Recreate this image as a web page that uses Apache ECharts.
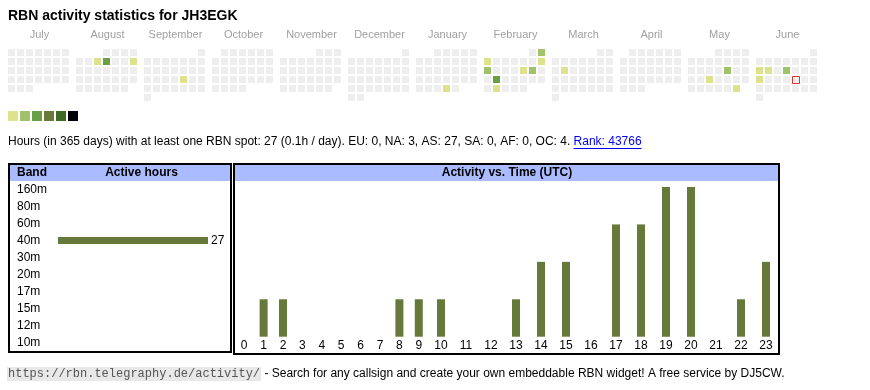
<!DOCTYPE html>
<html><head><meta charset="utf-8">
<script src="https://cdn.jsdelivr.net/npm/echarts@6/dist/echarts.min.js"></script>
<style>html,body{margin:0;padding:0;background:#fff}#c{width:870px;height:390px}</style>
</head><body><div id="c"></div>
<script>
const TITLE = 'RBN activity statistics for JH3EGK';
const monthNames = ['July','August','September','October','November','December','January','February','March','April','May','June'];
const monthRanges = ['2024-07','2024-08','2024-09','2024-10','2024-11','2024-12','2025-01','2025-02','2025-03','2025-04','2025-05','2025-06'];
const activeDays = ['2024-08-07','2024-08-08','2024-08-11','2024-09-20','2025-01-30','2025-02-02','2025-02-03','2025-02-09','2025-02-10','2025-02-14','2025-02-15','2025-02-18','2025-02-25','2025-03-11','2025-05-16','2025-05-21','2025-05-31','2025-06-09','2025-06-10','2025-06-12','2025-06-16'];
const activeLevels = [1,3,1,1,1,2,1,1,2,1,2,3,1,1,2,1,1,1,1,2,1];
const todayDate = '2025-06-20';
const levelColors = ['#dde38c','#a0c26a','#6aa045','#677a3b','#3e6a28','#000000'];
const bands = ['160m','80m','60m','40m','30m','20m','17m','15m','12m','10m'];
const bandHours = [0,0,0,27,0,0,0,0,0,0];
const hourLabels = ['0','1','2','3','4','5','6','7','8','9','10','11','12','13','14','15','16','17','18','19','20','21','22','23'];
const hourCounts = [0,1,1,0,0,0,0,0,1,1,1,0,0,1,2,2,0,3,3,4,4,0,1,2];
const INFO_TEXT = 'Hours (in 365 days) with at least one RBN spot: 27 (0.1h / day). EU: 0, NA: 3, AS: 27, SA: 0, AF: 0, OC: 4. ';
const RANK_TEXT = 'Rank: 43766';
const FOOT_URL = 'https://rbn.telegraphy.de/activity/';
const FOOT_TEXT = ' - Search for any callsign and create your own embeddable RBN widget! A free service by DJ5CW.';

const FF = '"Liberation Sans", Arial, sans-serif';
const BAR = '#66793a';
const ctx = document.createElement('canvas').getContext('2d');
function tw(s, font){ ctx.font = font; return ctx.measureText(s).width; }

function pad(n){ return (n<10?'0':'')+n; }
function daysOf(range){
  const [y,m] = range.split('-').map(Number);
  const out = [];
  for (let d=1; d<=31; d++){
    const dt = new Date(Date.UTC(y, m-1, d));
    if (dt.getUTCMonth() !== m-1) break;
    const key = y+'-'+pad(m)+'-'+pad(d);
    const idx = activeDays.indexOf(key);
    out.push([key, idx>=0 ? activeLevels[idx] : 0]);
  }
  return out;
}

const chart = echarts.init(document.getElementById('c'), null, {renderer:'canvas'});

const calendars = monthRanges.map((r,i)=>({
  orient:'vertical', range:r, cellSize:[9,9], left: 7+68*i, top: 48,
  dayLabel:{show:false, firstDay:1}, monthLabel:{show:false}, yearLabel:{show:false},
  splitLine:{show:false}, itemStyle:{color:'transparent', borderWidth:0}, silent:true
}));

const series = monthRanges.map((r,i)=>({
  type:'heatmap', coordinateSystem:'calendar', calendarIndex:i, data:daysOf(r),
  itemStyle:{borderColor:'#ffffff', borderWidth:2}, emphasis:{disabled:true}, silent:true
}));
const todayIdx = monthRanges.indexOf(todayDate.slice(0,7));
series.push({type:'scatter', coordinateSystem:'calendar', calendarIndex:todayIdx,
  data:[[todayDate,0]], symbol:'rect', symbolSize:7, symbolOffset:[0.5,0.5],
  itemStyle:{color:'#eeeeee', borderColor:'#e00000', borderWidth:1}, silent:true, z:5});
series.push({type:'bar', xAxisIndex:0, yAxisIndex:0, data:bandHours, barWidth:7,
  itemStyle:{color:BAR}, silent:true,
  label:{show:true, position:'right', distance:3, fontSize:12, fontFamily:FF, color:'#000',
    formatter:p=>p.value?String(p.value):''}});
series.push({type:'bar', xAxisIndex:1, yAxisIndex:1, data:hourCounts.slice(0,10), barWidth:8, itemStyle:{color:BAR}, silent:true});
series.push({type:'bar', xAxisIndex:2, yAxisIndex:2, data:hourCounts.slice(10), barWidth:8, itemStyle:{color:BAR}, silent:true});

const hMax = Math.max(...hourCounts);
const hourX = labels => ({type:'category', data:labels, axisLine:{show:false}, axisTick:{show:false},
  axisLabel:{interval:0, margin:3, fontSize:12, fontFamily:FF, color:'#000'}});
const hourY = () => ({type:'value', min:0, max:hMax, show:false});

const infoFont = '12px "Liberation Sans"';
const infoW = tw(INFO_TEXT, infoFont), rankW = tw(RANK_TEXT, infoFont);
const monoFont = '12px "Liberation Mono"';
const urlW = tw(FOOT_URL, monoFont);

const graphics = [];
monthNames.forEach((m,i)=>graphics.push({type:'text', x:8+68*i+31.5, y:35, silent:true,
  style:{text:m, fontSize:11, fontFamily:FF, fill:'#a0a0a0', align:'center', verticalAlign:'middle'}}));
// table headers
graphics.push({type:'rect', shape:{x:10, y:165, width:220, height:16}, style:{fill:'#aabbff'}, silent:true, z:1});
graphics.push({type:'rect', shape:{x:235, y:165, width:543, height:16}, style:{fill:'#aabbff'}, silent:true, z:1});
graphics.push({type:'rect', shape:{x:9, y:164, width:222, height:188}, style:{fill:null, stroke:'#000', lineWidth:2}, silent:true, z:3});
graphics.push({type:'rect', shape:{x:234, y:164, width:545, height:190}, style:{fill:null, stroke:'#000', lineWidth:2}, silent:true, z:3});
graphics.push({type:'text', x:17, y:173, silent:true, z:4, style:{text:'Band', fontSize:12, fontWeight:'bold', fontFamily:FF, fill:'#000', verticalAlign:'middle'}});
graphics.push({type:'text', x:141.5, y:173, silent:true, z:4, style:{text:'Active hours', fontSize:12, fontWeight:'bold', fontFamily:FF, fill:'#000', align:'center', verticalAlign:'middle'}});
graphics.push({type:'text', x:507, y:173, silent:true, z:4, style:{text:'Activity vs. Time (UTC)', fontSize:12, fontWeight:'bold', fontFamily:FF, fill:'#000', align:'center', verticalAlign:'middle'}});
// info line
graphics.push({type:'text', x:8, y:142, silent:true, style:{text:INFO_TEXT, fontSize:12, fontFamily:FF, fill:'#000', verticalAlign:'middle'}});
graphics.push({type:'text', x:8+infoW, y:142, silent:true, style:{text:RANK_TEXT, fontSize:12, fontFamily:FF, fill:'#0000ee', verticalAlign:'middle'}});
graphics.push({type:'line', shape:{x1:8+infoW, y1:148.5, x2:8+infoW+rankW, y2:148.5}, style:{stroke:'#0000ee', lineWidth:1}, silent:true});
// footer
graphics.push({type:'rect', shape:{x:7, y:367, width:urlW+2, height:14}, style:{fill:'#e8e8e8'}, silent:true});
graphics.push({type:'text', x:8, y:374, silent:true, z:2, style:{text:FOOT_URL, fontSize:12, fontFamily:'"Liberation Mono", monospace', fill:'#555', verticalAlign:'middle'}});
graphics.push({type:'text', x:9+urlW, y:374, silent:true, style:{text:FOOT_TEXT, fontSize:12, fontFamily:FF, fill:'#000', verticalAlign:'middle'}});

chart.setOption({
  animation:false,
  backgroundColor:'#ffffff',
  title:{text:TITLE, left:8, top:9, padding:0, textStyle:{fontSize:14, fontWeight:'bold', color:'#000', fontFamily:FF}},
  tooltip:{show:false},
  calendar:calendars,
  visualMap:{type:'piecewise', seriesIndex:monthRanges.map((_,i)=>i),
    pieces:levelColors.map((c,i)=>({value:i+1, color:c})),
    outOfRange:{color:'#eeeeee'}, orient:'horizontal', left:8, top:111, padding:0,
    itemWidth:10, itemHeight:10, itemGap:2, showLabel:false, itemSymbol:'rect', selectedMode:false},
  grid:[
    {left:58, top:181, width:150, height:170},
    {left:234.5, top:187, width:194, height:149.7},
    {left:428.5, top:187, width:350, height:149.7}
  ],
  xAxis:[
    {type:'value', min:0, max:'dataMax', show:false, gridIndex:0},
    Object.assign(hourX(hourLabels.slice(0,10)), {gridIndex:1}),
    Object.assign(hourX(hourLabels.slice(10)), {gridIndex:2})
  ],
  yAxis:[
    {type:'category', data:bands, inverse:true, gridIndex:0, axisLine:{show:false}, axisTick:{show:false},
     axisLabel:{align:'left', margin:41, fontSize:12, fontFamily:FF, color:'#000'}},
    Object.assign(hourY(), {gridIndex:1}),
    Object.assign(hourY(), {gridIndex:2})
  ],
  graphic:graphics,
  series:series
});
</script></body></html>
